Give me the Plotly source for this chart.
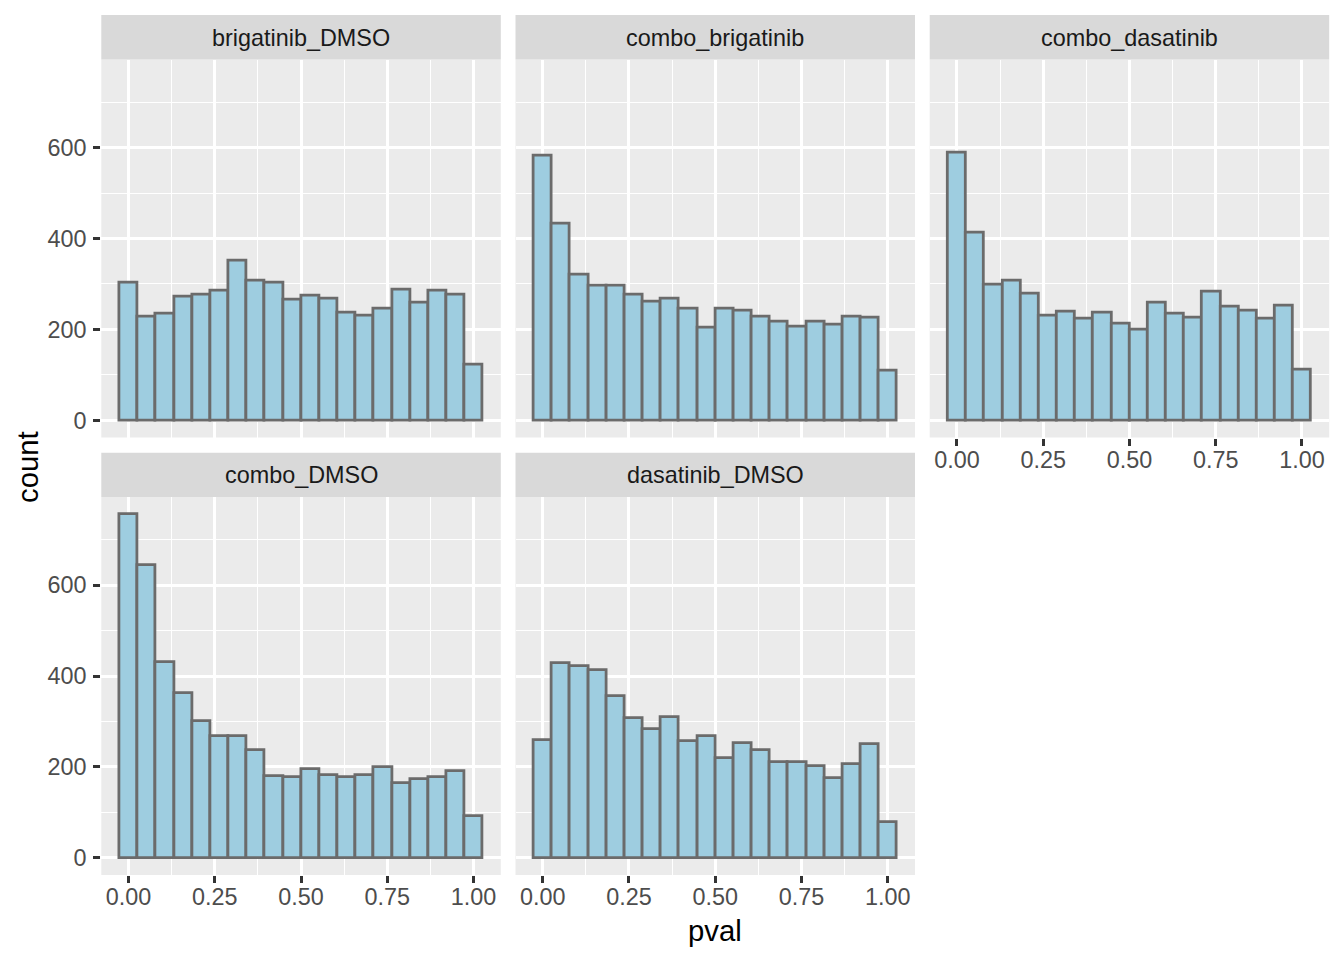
import numpy as np
import plotly.graph_objects as go

# ---------------- data ----------------
panels = ["brigatinib_DMSO", "combo_brigatinib", "combo_dasatinib", "combo_DMSO", "dasatinib_DMSO"]

brigatinib_DMSO = [304, 229, 235, 272, 277, 286, 352, 307, 303, 266, 275, 269, 237, 231, 246, 288, 259, 285, 277, 122]
combo_brigatinib = [582, 433, 321, 296, 297, 277, 261, 269, 247, 204, 245, 242, 228, 217, 207, 218, 210, 229, 226, 110]
combo_dasatinib = [589, 413, 298, 307, 280, 231, 239, 225, 237, 213, 199, 259, 234, 226, 283, 250, 241, 223, 253, 111]
combo_DMSO = [756, 644, 431, 363, 301, 268, 267, 238, 179, 177, 196, 182, 177, 182, 199, 165, 174, 178, 190, 92]
dasatinib_DMSO = [259, 428, 423, 414, 355, 307, 283, 309, 258, 268, 220, 253, 238, 210, 210, 201, 175, 207, 250, 78]

counts = [brigatinib_DMSO, combo_brigatinib, combo_dasatinib, combo_DMSO, dasatinib_DMSO]

n_bins = 20
x_ticks = [0.0, 0.25, 0.5, 0.75, 1.0]
x_ticklabels = ["0.00", "0.25", "0.50", "0.75", "1.00"]
y_ticks = [0, 200, 400, 600]
y_ticklabels = ["0", "200", "400", "600"]

# ---------------- geometry ----------------
W, H = 1344, 960
col_px = [(101.3, 500.8), (515.5, 915.0), (929.7, 1329.2)]
row_px = [(59.5, 437.5), (497.0, 875.0)]
strip_px = [(15.0, 59.5), (452.7, 497.0)]
positions = [(0, 0), (0, 1), (0, 2), (1, 0), (1, 1)]

binw = 1.0 / (n_bins - 1)
centers = np.linspace(0, 1, n_bins)
xmin, xmax = -binw / 2, 1 + binw / 2
xr = [xmin - 0.05 * (xmax - xmin), xmax + 0.05 * (xmax - xmin)]
ymax = max(max(c) for c in counts)
yr = [-0.05 * ymax, 1.05 * ymax]

def fx(p):
    return p / W

def fy(p):
    return 1 - p / H

FONT = "Liberation Sans, Arial, Helvetica, sans-serif"
TICK_SIZE = 23.4
TITLE_SIZE = 29.3
LW = 2.8

fig = go.Figure()
layout = dict(
    width=W, height=H,
    margin=dict(l=0, r=0, t=0, b=0),
    paper_bgcolor="white", plot_bgcolor="#EBEBEB",
    showlegend=False, bargap=0, barmode="overlay",
    font=dict(family=FONT, color="#4D4D4D"),
)
shapes = []
annotations = []

bottom_axes = {3, 4, 2}  # panels that show x tick labels
left_axes = {0, 3}

for i, (name, vals) in enumerate(zip(panels, counts)):
    r, c = positions[i]
    ax = "" if i == 0 else str(i + 1)
    fig.add_trace(go.Bar(
        x=centers, y=vals, width=binw,
        marker=dict(color="#9ECDE0", line=dict(color="#6B6B6B", width=LW)),
        xaxis="x" + ax, yaxis="y" + ax,
    ))
    x0, x1 = col_px[c]
    y0, y1 = row_px[r]
    show_x = i in bottom_axes
    show_y = i in left_axes
    layout["xaxis" + ax] = dict(
        domain=[fx(x0), fx(x1)], range=xr, anchor="y" + ax,
        tickvals=x_ticks, ticktext=x_ticklabels, showticklabels=show_x,
        ticks="outside" if show_x else "", ticklen=7, tickwidth=LW, tickcolor="#333333",
        ticklabelstandoff=-6,
        tickfont=dict(size=TICK_SIZE, color="#4D4D4D", family=FONT),
        showgrid=True, gridcolor="white", gridwidth=LW,
        minor=dict(tickvals=[0.125, 0.375, 0.625, 0.875], showgrid=True, gridcolor="white", gridwidth=LW / 2, ticks=""),
        zeroline=False, showline=False, fixedrange=True,
    )
    layout["yaxis" + ax] = dict(
        domain=[fy(y1), fy(y0)], range=yr, anchor="x" + ax,
        tickvals=y_ticks, ticktext=y_ticklabels, showticklabels=show_y,
        ticks="outside" if show_y else "", ticklen=7, tickwidth=LW, tickcolor="#333333",
        ticklabelstandoff=2,
        tickfont=dict(size=TICK_SIZE, color="#4D4D4D", family=FONT),
        showgrid=True, gridcolor="white", gridwidth=LW,
        minor=dict(tickvals=[100, 300, 500, 700], showgrid=True, gridcolor="white", gridwidth=LW / 2, ticks=""),
        zeroline=False, showline=False, fixedrange=True,
    )
    sy0, sy1 = strip_px[r]
    shapes.append(dict(type="rect", xref="paper", yref="paper",
                       x0=fx(x0), x1=fx(x1), y0=fy(sy1), y1=fy(sy0),
                       fillcolor="#D9D9D9", line=dict(width=0), layer="below"))
    annotations.append(dict(text=name, xref="paper", yref="paper",
                            x=fx((x0 + x1) / 2), y=fy((sy0 + sy1) / 2 + 0.5),
                            xanchor="center", yanchor="middle", showarrow=False,
                            font=dict(size=TICK_SIZE, color="#1A1A1A", family=FONT)))

annotations.append(dict(text="count", xref="paper", yref="paper", x=fx(27), y=fy(467),
                        textangle=-90, xanchor="center", yanchor="middle", showarrow=False,
                        font=dict(size=TITLE_SIZE, color="black", family=FONT)))
annotations.append(dict(text="pval", xref="paper", yref="paper", x=fx(715), y=fy(930),
                        xanchor="center", yanchor="middle", showarrow=False,
                        font=dict(size=TITLE_SIZE, color="black", family=FONT)))

layout["shapes"] = shapes
layout["annotations"] = annotations
fig.update_layout(**layout)
fig.write_html("out.html", config={"displayModeBar": False},
               post_script="document.body.style.margin='0px';")
